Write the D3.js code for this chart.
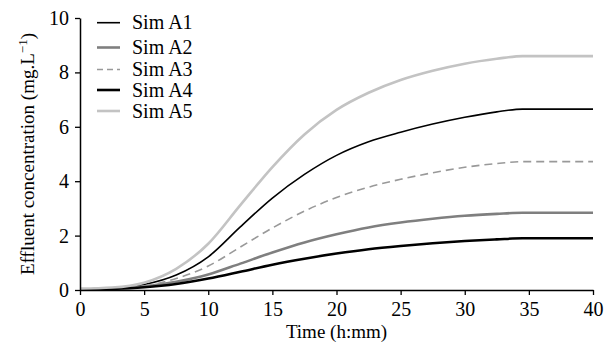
<!DOCTYPE html>
<html lang="en">
<head>
    <meta charset="UTF-8">
    <title>effluent concentration</title>
    <script src="https://d3js.org/d3.v7.min.js"></script>
    <style>
        body { margin: 0; background: #fff; }
        text { font-family: "Liberation Serif", "Times New Roman", serif; }
    </style>
</head>
<body>
    <svg></svg>
    <script>
        const width = 608;
        const height = 347;
        const margin = {left: 80, right: 15, bottom: 57, top: 18};
        const w = width - margin.left - margin.right;
        const h = height - margin.top - margin.bottom;

        // time (h) and simulated concentrations (mg/L)
        const times = [0, 2.5, 5, 7.5, 10, 12.5, 15, 17.5, 20, 22.5, 25, 27.5, 30, 32.5, 34.5, 37, 40];
        const simA1 = [0.03, 0.06, 0.2, 0.55, 1.22, 2.32, 3.38, 4.25, 4.95, 5.45, 5.8, 6.1, 6.35, 6.55, 6.65, 6.65, 6.65];
        const simA2 = [0.02, 0.05, 0.13, 0.3, 0.57, 0.97, 1.38, 1.75, 2.05, 2.3, 2.48, 2.62, 2.73, 2.8, 2.84, 2.84, 2.84];
        const simA3 = [0.03, 0.05, 0.15, 0.42, 0.88, 1.58, 2.28, 2.9, 3.4, 3.78, 4.07, 4.31, 4.51, 4.65, 4.72, 4.72, 4.72];
        const simA4 = [0.02, 0.04, 0.1, 0.22, 0.42, 0.67, 0.93, 1.15, 1.34, 1.5, 1.62, 1.72, 1.8, 1.86, 1.9, 1.9, 1.9];
        const simA5 = [0.05, 0.09, 0.27, 0.78, 1.7, 3.12, 4.52, 5.72, 6.62, 7.25, 7.72, 8.06, 8.32, 8.5, 8.6, 8.6, 8.6];
        const seriesNames = ["Sim A1", "Sim A2", "Sim A3", "Sim A4", "Sim A5"];
        const xTicks = [0, 5, 10, 15, 20, 25, 30, 35, 40];
        const yTicks = [0, 2, 4, 6, 8, 10];

        const styles = [
            {color: "#000", width: 1.6, dash: null},
            {color: "#7f7f7f", width: 2.6, dash: null},
            {color: "#999", width: 1.6, dash: "8,5"},
            {color: "#000", width: 2.6, dash: null},
            {color: "#c3c3c3", width: 2.6, dash: null}
        ];
        const allSeries = [simA1, simA2, simA3, simA4, simA5];

        const svg = d3.select("svg")
            .attr("width", width)
            .attr("height", height);

        const x = d3.scaleLinear().domain([0, 40]).range([0, w]);
        const y = d3.scaleLinear().domain([0, 10]).range([h, 0]);

        const g = svg.append("g")
            .attr("transform", `translate(${margin.left}, ${margin.top})`);

        const line = d3.line()
            .x((d, i) => x(times[i]))
            .y(d => y(d))
            .curve(d3.curveMonotoneX);

        g.selectAll("path.series")
            .data(allSeries)
            .enter()
            .append("path")
                .attr("class", "series")
                .attr("d", line)
                .attr("fill", "none")
                .attr("stroke", (d, i) => styles[i].color)
                .attr("stroke-width", (d, i) => styles[i].width)
                .attr("stroke-dasharray", (d, i) => styles[i].dash);

        // x axis
        const xAxis = g.append("g")
            .attr("transform", `translate(0, ${h})`)
            .call(d3.axisBottom(x).tickValues(xTicks).tickSize(5).tickSizeOuter(0).tickPadding(7));

        // y axis
        const yAxis = g.append("g")
            .call(d3.axisLeft(y).tickValues(yTicks).tickSize(5).tickSizeOuter(0).tickPadding(6));

        [xAxis, yAxis].forEach(a => {
            a.select(".domain").attr("stroke", "#000").attr("stroke-width", 1.5);
            a.selectAll(".tick line").attr("stroke", "#000").attr("stroke-width", 1.3);
            a.selectAll(".tick text")
                .attr("fill", "#000")
                .style("font-family", "'Liberation Serif', serif")
                .style("font-size", "20px");
        });

        svg.append("text")
            .attr("x", margin.left + w / 2)
            .attr("y", 338)
            .attr("text-anchor", "middle")
            .style("font-size", "19px")
            .text("Time (h:mm)");

        const yLabel = svg.append("text")
            .attr("transform", `translate(34, ${margin.top + h / 2}) rotate(-90)`)
            .attr("text-anchor", "middle")
            .style("font-size", "19px");
        yLabel.append("tspan").text("Effluent concentration (mg.L");
        yLabel.append("tspan").attr("baseline-shift", "super").style("font-size", "13px").text("\u22121");
        yLabel.append("tspan").text(")");

        // legend
        const legendY = [22.7, 47.5, 69.5, 90, 111];
        const legend = svg.append("g");
        seriesNames.forEach((name, i) => {
            legend.append("line")
                .attr("x1", 97).attr("x2", 120)
                .attr("y1", legendY[i]).attr("y2", legendY[i])
                .attr("stroke", styles[i].color)
                .attr("stroke-width", styles[i].width)
                .attr("stroke-dasharray", styles[i].dash ? "6,4" : null);
            legend.append("text")
                .attr("x", 132)
                .attr("y", legendY[i] + 6.5)
                .style("font-size", "20px")
                .text(name);
        });
    </script>
</body>
</html>
